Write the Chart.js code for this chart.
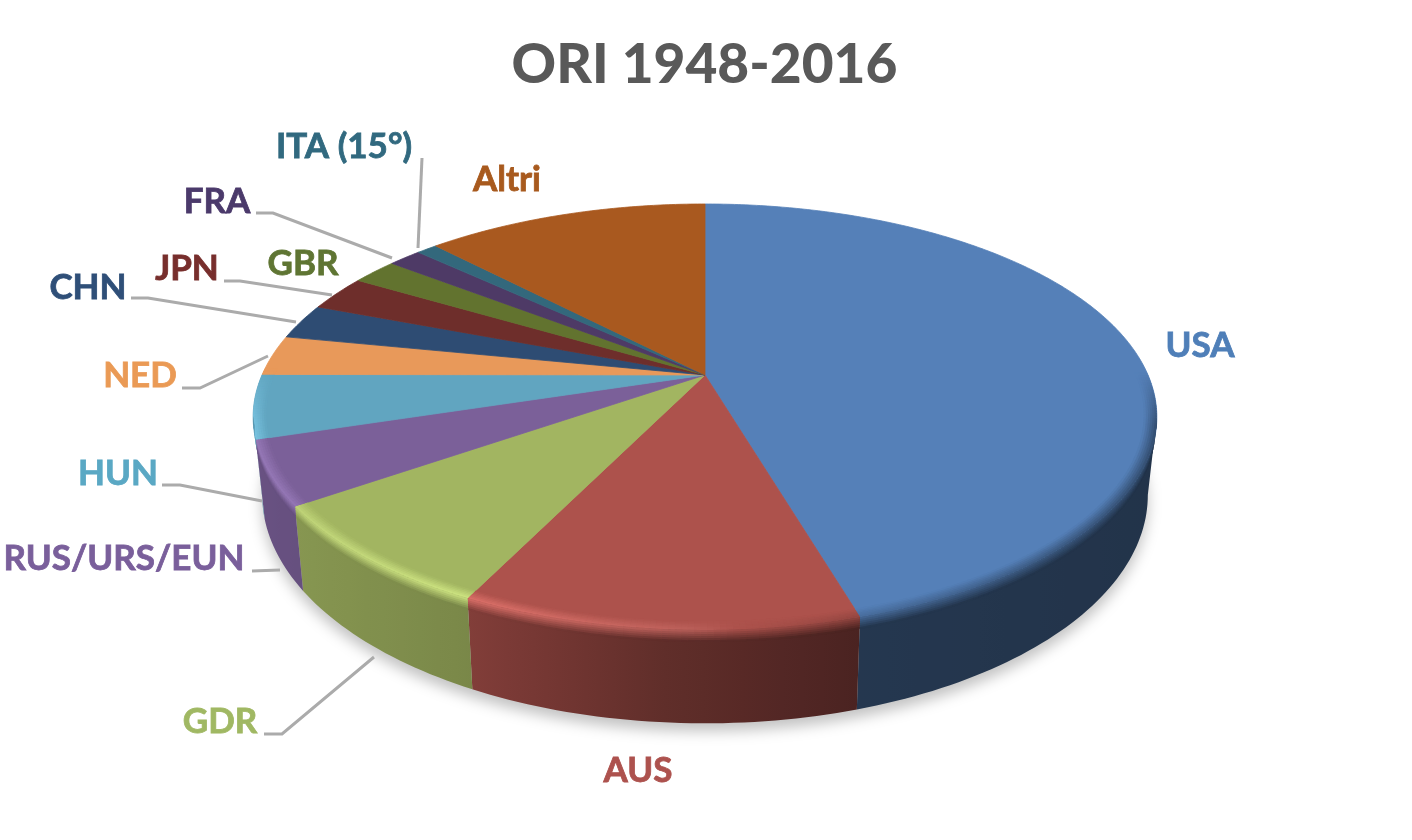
<!DOCTYPE html>
<html>
<head>
<meta charset="utf-8">
<title>ORI 1948-2016</title>
<script src="https://cdn.jsdelivr.net/npm/chart.js@4/dist/chart.umd.js"></script>
<style>
    html, body { margin: 0; padding: 0; background: #fff; }
    canvas { display: block; filter: blur(0.5px); }
</style>
</head>
<body>
<canvas id="pie-chart" width="1412" height="840"></canvas>
<script>
// Dati
const categories = ['USA', 'AUS', 'GDR', 'RUS/URS/EUN', 'HUN', 'NED', 'CHN', 'JPN', 'GBR', 'FRA', 'ITA (15°)', 'Altri'];
const goldMedals = [253, 66, 45, 27, 27, 17, 15, 15, 11, 8, 5, 68];
const sliceColors = ['#5580b8', '#ad524c', '#a2b561', '#7b6099', '#61a5c0', '#e8995a', '#2e4c73', '#6e2e2b', '#62732f', '#4e3a66', '#33687c', '#a9591f'];
const labelColors = ['#4f7fb8', '#ad524e', '#a0b863', '#7a5f9b', '#5aa8c4', '#ea9a55', '#2f4f78', '#772e2c', '#5f7533', '#4b3a6b', '#31697f', '#a85a1e'];

// Posizione delle etichette (centro del testo)
const labelAnchors = [[1200, 346], [638, 771], [220, 722], [124, 559], [118, 474], [140, 376], [88, 288], [187, 269], [303, 264], [217, 202], [344, 147], [507, 180]];
// Linee guida, stesso ordine delle etichette
const leaderLines = [
    null,
    null,
    [[264, 734], [282, 734], [374, 657]],
    [[252, 571], [280, 570]],
    [[162, 485], [180, 485], [262, 501]],
    [[182, 388], [200, 388], [268, 356]],
    [[131, 298], [148, 298], [296, 322]],
    [[224, 281], [240, 281], [332, 295]],
    null,
    [[256, 213], [273, 213], [392, 258]],
    [[422, 158], [418, 248]],
    null
];

// Vista prospettica del disco
const view = { cx: 705, cy: 375, ax: 443, ay: 204.7, k: 0.197, depth: 75, shrink: 0.02 };

// Ombreggiatura lungo la x: [x, valore]
const wallShade = [[255, 0.85], [470, 0.75], [660, 0.56], [860, 0.43], [1160, 0.40]];
const rimLight = [[255, 0.16], [300, 0.16], [470, 0.26], [660, 0.1], [860, -0.15], [1160, -0.4]];

function project(theta, r) {
    const u = r * Math.sin(theta);
    const v = -r * Math.cos(theta);
    const w = 1 - view.k * v;
    return { x: view.cx + view.ax * u / w, y: view.cy + view.ay * v / w, w: w };
}

function wallPoint(theta, z) {
    const p = project(theta, 1);
    return { x: view.cx + (p.x - view.cx) * (1 - view.shrink * z), y: p.y + view.depth * z / p.w };
}

function lookup(table, x) {
    if (x <= table[0][0]) return table[0][1];
    for (let i = 1; i < table.length; i++) {
        if (x <= table[i][0]) {
            const t = (x - table[i - 1][0]) / (table[i][0] - table[i - 1][0]);
            return table[i - 1][1] + (table[i][1] - table[i - 1][1]) * t;
        }
    }
    return table[table.length - 1][1];
}

function toRgb(hex) {
    return [1, 3, 5].map(i => parseInt(hex.substr(i, 2), 16));
}

function mix(a, b, t) {
    return a.map((c, i) => c + (b[i] - c) * t);
}

function css(c) {
    return `rgb(${c.map(v => Math.min(255, Math.round(v))).join(',')})`;
}

function quad(ctx, a, b, c, d, color) {
    ctx.fillStyle = color;
    ctx.beginPath();
    ctx.moveTo(a.x, a.y);
    ctx.lineTo(b.x, b.y);
    ctx.lineTo(c.x, c.y);
    ctx.lineTo(d.x, d.y);
    ctx.closePath();
    ctx.fill();
}

// La fetta usa gli angoli calcolati da Chart.js, proiettati sul disco
Chart.ArcElement.prototype.draw = function (ctx) {
    const start = this.startAngle + Math.PI / 2;
    const end = this.endAngle + Math.PI / 2;
    const steps = Math.max(2, Math.ceil((end - start) / 0.01));
    ctx.save();
    ctx.fillStyle = this.options.backgroundColor;
    ctx.strokeStyle = this.options.backgroundColor;
    ctx.lineWidth = 0.8;
    ctx.beginPath();
    ctx.moveTo(view.cx, view.cy);
    for (let i = 0; i <= steps; i++) {
        const p = project(start + (end - start) * i / steps, 1);
        ctx.lineTo(p.x, p.y);
    }
    ctx.closePath();
    ctx.fill();
    ctx.stroke();
    ctx.restore();
};

function slices(chart) {
    return chart.getDatasetMeta(0).data.map((arc, index) => ({
        start: arc.startAngle + Math.PI / 2,
        end: arc.endAngle + Math.PI / 2,
        color: toRgb(sliceColors[index])
    }));
}

const solidPie = {
    id: 'solidPie',
    beforeDatasetsDraw(chart) {
        const ctx = chart.ctx;
        // Ombra sotto il disco
        ctx.save();
        ctx.filter = 'blur(7px)';
        ctx.fillStyle = 'rgba(0, 0, 0, 0.24)';
        ctx.beginPath();
        for (let deg = 0; deg < 360; deg += 2) {
            const p = wallPoint(deg * Math.PI / 180, 1);
            ctx.lineTo(p.x, p.y + 8);
        }
        ctx.closePath();
        ctx.fill();
        ctx.restore();

        // Parete laterale, una sfumatura per fetta: solo fra i due punti di tangenza
        const tangent = Math.acos(-view.k);
        const wallFrom = tangent;
        const wallTo = 2 * Math.PI - tangent;
        ctx.save();
        slices(chart).forEach(slice => {
            const from = Math.max(slice.start, wallFrom);
            const to = Math.min(slice.end, wallTo);
            if (from >= to) return;
            const steps = Math.max(2, Math.ceil((to - from) / 0.02));
            const top = [];
            const bottom = [];
            for (let i = 0; i <= steps; i++) {
                const t = from + (to - from) * i / steps;
                top.push(wallPoint(t, 0));
                bottom.push(wallPoint(t, 1));
            }
            const xs = top.concat(bottom).map(p => p.x);
            const x0 = Math.min(...xs);
            const x1 = Math.max(...xs) + 1;
            const gradient = ctx.createLinearGradient(x0, 0, x1, 0);
            for (let i = 0; i <= 10; i++) {
                const x = x0 + (x1 - x0) * i / 10;
                gradient.addColorStop(i / 10, css(mix([0, 0, 0], slice.color, lookup(wallShade, x))));
            }
            ctx.fillStyle = gradient;
            ctx.beginPath();
            top.forEach((p, i) => (i ? ctx.lineTo(p.x, p.y) : ctx.moveTo(p.x, p.y)));
            bottom.reverse().forEach(p => ctx.lineTo(p.x, p.y));
            ctx.closePath();
            ctx.fill();
        });
        ctx.restore();
    },
    afterDatasetsDraw(chart) {
        const ctx = chart.ctx;
        const bands = 6;
        ctx.save();
        slices(chart).forEach(slice => {
            const steps = Math.max(2, Math.ceil((slice.end - slice.start) / 0.012));
            const step = (slice.end - slice.start) / steps;
            for (let i = 0; i < steps; i++) {
                const t0 = slice.start + step * i;
                // sovrapposizione fra i pezzi per non lasciare righe
                const t1 = Math.min(slice.end, t0 + step * 1.6);
                const near = -Math.cos(t0);
                const strength = Math.min(1, Math.max(0, (near + 0.02) / 0.25));
                if (strength <= 0) continue;
                const x = project(t0, 1).x;
                const light = lookup(rimLight, x);
                const hi = light > 0 ? mix(slice.color.map(c => c * (1 + light)), [255, 255, 255], Math.min(0.06, light)) : mix(slice.color, [0, 0, 0], -light);
                const wall = mix([0, 0, 0], slice.color, lookup(wallShade, x));
                // Smusso sul bordo: dentro il disco
                for (let b = 0; b < bands; b++) {
                    const r0 = 0.972 + 0.028 * b / bands;
                    const r1 = Math.min(1, 0.972 + 0.028 * (b + 1.5) / bands);
                    const c = mix(slice.color, hi, (b + 0.5) / bands * strength);
                    quad(ctx, project(t0, r0), project(t1, r0), project(t1, r1), project(t0, r1), css(c));
                }
                // Smusso sul bordo: inizio della parete, solo dove la parete si vede
                const onWall = Math.min(1, Math.max(0, (near - 0.2) / 0.1));
                if (onWall <= 0) continue;
                for (let b = 0; b < bands; b++) {
                    const z0 = 0.13 * b / bands;
                    const z1 = Math.min(0.13, 0.13 * (b + 1.5) / bands);
                    const c = mix(mix(slice.color, hi, strength), wall, (b + 1) / bands);
                    quad(ctx, wallPoint(t0, z0), wallPoint(t1, z0), wallPoint(t1, z1), wallPoint(t0, z1), css(mix(wall, c, onWall)));
                }
            }
        });
        ctx.restore();
    },
    afterDraw(chart) {
        const ctx = chart.ctx;
        ctx.save();
        // Linee guida
        ctx.strokeStyle = '#ababab';
        ctx.lineWidth = 3;
        leaderLines.forEach(points => {
            if (!points) return;
            ctx.beginPath();
            points.forEach(([x, y], i) => (i ? ctx.lineTo(x, y) : ctx.moveTo(x, y)));
            ctx.stroke();
        });
        // Etichette
        ctx.font = 'bold 35px Lato';
        ctx.textAlign = 'center';
        ctx.textBaseline = 'middle';
        ctx.lineWidth = 0.8;
        categories.forEach((name, i) => {
            ctx.fillStyle = labelColors[i];
            ctx.strokeStyle = labelColors[i];
            ctx.fillText(name, labelAnchors[i][0], labelAnchors[i][1]);
            ctx.strokeText(name, labelAnchors[i][0], labelAnchors[i][1]);
        });
        ctx.restore();
    }
};

const pieChart = new Chart(document.getElementById('pie-chart'), {
    type: 'pie',
    data: {
        labels: categories,
        datasets: [{
            data: goldMedals,
            backgroundColor: sliceColors,
            borderWidth: 0
        }]
    },
    options: {
        animation: false,
        responsive: false,
        devicePixelRatio: 1,
        layout: { padding: { right: 3 } },
        plugins: {
            legend: { display: false },
            tooltip: { enabled: false },
            title: {
                display: true,
                text: 'ORI 1948-2016',
                color: '#595959',
                font: { family: 'Lato', size: 55, weight: '900' },
                padding: { top: 32, bottom: 10 }
            }
        }
    },
    plugins: [solidPie]
});
</script>
</body>
</html>
